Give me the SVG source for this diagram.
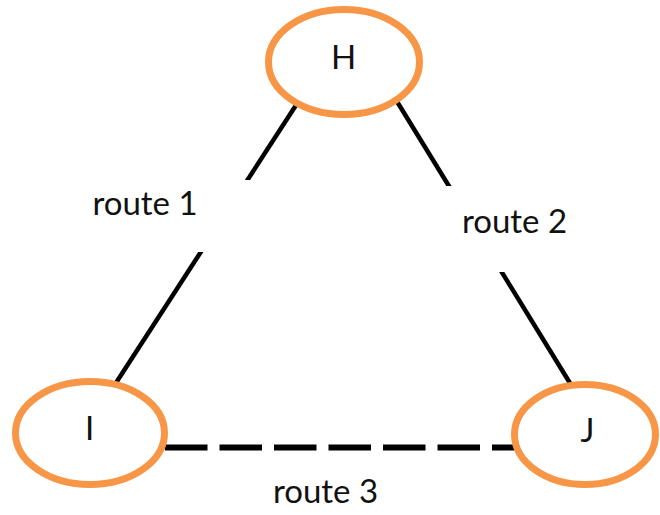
<svg xmlns="http://www.w3.org/2000/svg" width="660" height="515" viewBox="0 0 660 515">
  <style>
    .node ellipse { fill: #ffffff; stroke: #f79646; stroke-width: 7; }
    .node text, .label text { font-family: Lato, "Liberation Sans", sans-serif; font-size: 33px; fill: #111111; text-anchor: middle; }
    .edge { stroke: #000000; stroke-width: 4.5; fill: none; }
    .dashed { stroke-width: 6; stroke-dasharray: 42.5 12; }
    .label rect { fill: #ffffff; stroke: none; }
  </style>

  <!-- connectors -->
  <g id="connectors">
    <line id="route1" class="edge" x1="300" y1="99" x2="112" y2="389"/>
    <line id="route2" class="edge" x1="393" y1="95" x2="573" y2="388"/>
    <line id="route3" class="edge dashed" x1="165" y1="447.5" x2="516" y2="447.5"/>
  </g>

  <!-- route labels on white boxes -->
  <g id="label-route1" class="label">
    <rect x="70" y="180" width="185" height="72"/>
    <text x="145" y="215">route 1</text>
  </g>
  <g id="label-route2" class="label">
    <rect x="443" y="186" width="147" height="86"/>
    <text x="514.5" y="233">route 2</text>
  </g>
  <g id="label-route3" class="label">
    <text x="325.5" y="503">route 3</text>
  </g>

  <!-- nodes -->
  <g id="node-H" class="node">
    <ellipse cx="344" cy="62" rx="75.5" ry="52.5"/>
    <text x="343.5" y="69">H</text>
  </g>
  <g id="node-I" class="node">
    <ellipse cx="90" cy="433" rx="74.5" ry="51.5"/>
    <text x="89.5" y="440">I</text>
  </g>
  <g id="node-J" class="node">
    <ellipse cx="585" cy="434.5" rx="70.5" ry="50"/>
    <text x="587.5" y="442">J</text>
  </g>
</svg>
